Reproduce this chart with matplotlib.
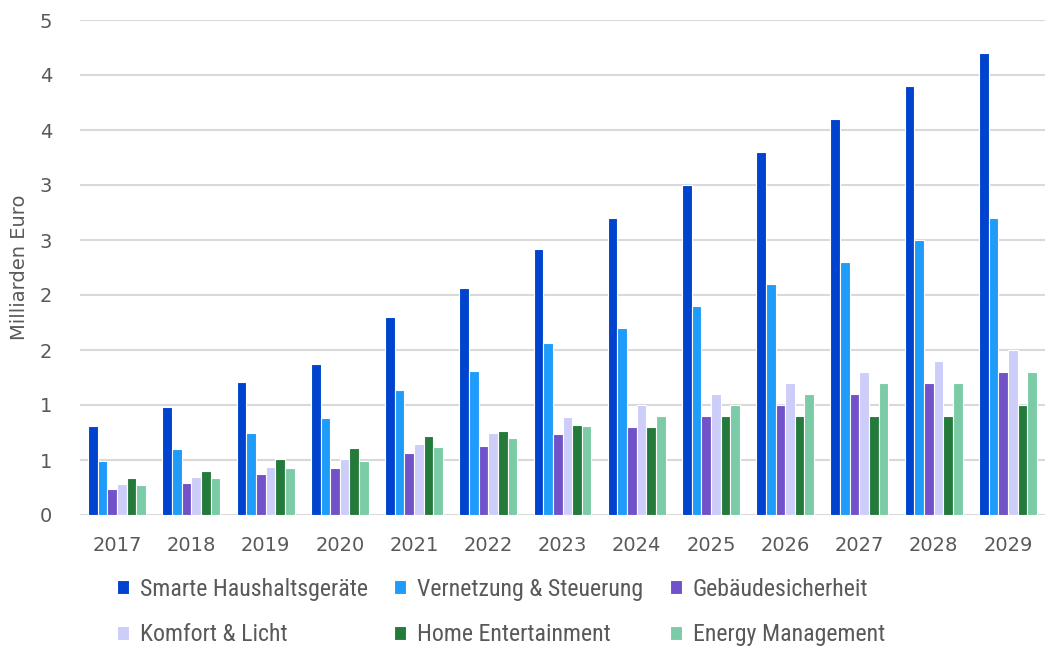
import matplotlib
matplotlib.use("Agg")
import matplotlib.pyplot as plt
from matplotlib import font_manager as fm
import numpy as np

years = ["2017", "2018", "2019", "2020", "2021", "2022", "2023",
         "2024", "2025", "2026", "2027", "2028", "2029"]
series_names = ["Smarte Haushaltsgeräte", "Vernetzung & Steuerung", "Gebäudesicherheit",
                "Komfort & Licht", "Home Entertainment", "Energy Management"]
smart = [0.81, 0.98, 1.21, 1.37, 1.80, 2.06, 2.42, 2.70, 3.00, 3.30, 3.60, 3.90, 4.20]
vernetzung = [0.49, 0.60, 0.75, 0.88, 1.14, 1.31, 1.56, 1.70, 1.90, 2.10, 2.30, 2.50, 2.70]
sicherheit = [0.24, 0.29, 0.37, 0.43, 0.56, 0.63, 0.74, 0.80, 0.90, 1.00, 1.10, 1.20, 1.30]
komfort = [0.28, 0.35, 0.44, 0.51, 0.645, 0.75, 0.89, 1.00, 1.10, 1.20, 1.30, 1.40, 1.50]
entertainment = [0.34, 0.40, 0.51, 0.61, 0.715, 0.76, 0.82, 0.80, 0.90, 0.90, 0.90, 0.90, 1.00]
energy = [0.27, 0.34, 0.43, 0.49, 0.615, 0.70, 0.81, 0.90, 1.00, 1.10, 1.20, 1.20, 1.30]
ytick_values = [0, 0.5, 1.0, 1.5, 2.0, 2.5, 3.0, 3.5, 4.0, 4.5]
ytick_labels = ["0", "1", "1", "2", "2", "3", "3", "4", "4", "5"]

colors = ["#0043CE", "#1F9BFA", "#7152C9", "#CDCDFA", "#237A3B", "#7BCBA6"]
data = [smart, vernetzung, sicherheit, komfort, entertainment, energy]

available = {f.name for f in fm.fontManager.ttflist}
narrow = next((n for n in ["Roboto Condensed", "Archivo Narrow", "Barlow Semi Condensed",
                           "Asap Condensed"] if n in available), "DejaVu Sans")

fig = plt.figure(figsize=(10.46, 6.48), dpi=100)
ax = fig.add_axes([80/1046, 1 - 515/648, 965/1046, 495/648])

x = np.arange(len(years))
w = 0.13
handles = []
for i, (vals, c, name) in enumerate(zip(data, colors, series_names)):
    h = ax.bar(x + (i - 2.5) * w, vals, width=w, color=c, edgecolor="white",
               linewidth=0.8, label=name, zorder=3)
    handles.append(h)

ax.set_xlim(-0.5, len(years) - 0.5)
ax.set_ylim(0, 4.5)
ax.set_yticks(ytick_values)
ax.set_yticklabels(ytick_labels)
ax.set_xticks(x)
ax.set_xticklabels(years)
ax.grid(axis="y", color="#D9D9D9", linewidth=1.5, zorder=0)
ax.set_axisbelow(True)
for s in ax.spines.values():
    s.set_visible(False)
ax.tick_params(axis="both", length=0, labelsize=14, labelcolor="#595959")
ax.tick_params(axis="x", pad=15)
ax.tick_params(axis="y", pad=20)
ax.set_ylabel("Milliarden Euro", fontsize=14, color="#595959", labelpad=8)

# size the legend font so the first label spans about 228 px
renderer = fig.canvas.get_renderer()
probe = fig.text(0, 0, series_names[0], family=narrow, size=15)
wpx = probe.get_window_extent(renderer).width
probe.remove()
lsize = 15 * 228 / wpx

order = [0, 3, 1, 4, 2, 5]
leg = fig.legend([handles[i] for i in order], [series_names[i] for i in order],
                 loc="upper left", bbox_to_anchor=(100/1046, 1 - 561/648), ncol=3,
                 frameon=False, handlelength=0.5, handleheight=0.5,
                 handletextpad=0.47, columnspacing=1.1, labelspacing=0.95,
                 borderpad=0.2, prop={"family": [narrow, "DejaVu Sans"], "size": lsize})
for t in leg.get_texts():
    t.set_color("#595959")

fig.savefig("out.png", dpi=100)
